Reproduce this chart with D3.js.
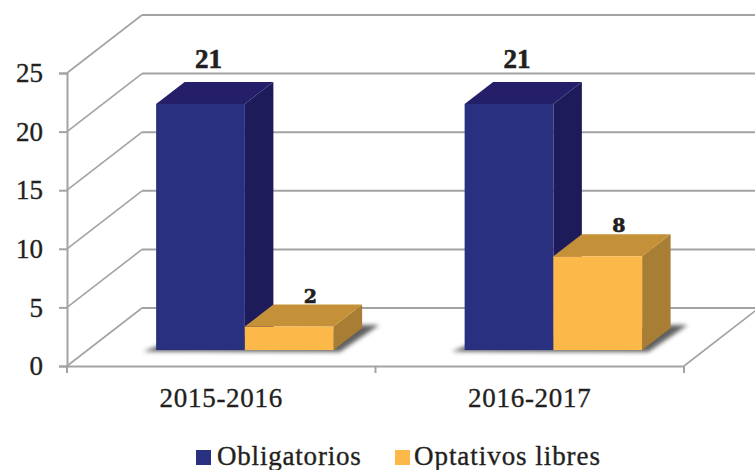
<!DOCTYPE html>
<html>
<head>
<meta charset="utf-8">
<script src="https://cdn.jsdelivr.net/npm/d3@7/dist/d3.min.js"></script>
<style>
  html, body { margin: 0; padding: 0; background: #fff; }
  text { font-family: "Liberation Serif", serif; fill: #231f20; stroke: #231f20; stroke-width: 0.35px; }
</style>
</head>
<body>
<svg width="755" height="470"></svg>
<script>
const categories = ["2015-2016", "2016-2017"];
const seriesNames = ["Obligatorios", "Optativos libres"];
const obligatorios = [21, 21];
const optativos = [2, 8];
const yTicks = [0, 5, 10, 15, 20, 25];

const frontColors = ["#2a3080", "#fdb84a"];
const topColors = ["#241f68", "#c49138"];
const sideColors = ["#1e1b5a", "#a87d34"];
const grid = "#a3a3a3";

const svg = d3.select("svg");
const defs = svg.append("defs");
defs.append("filter").attr("id", "blur")
  .attr("x", "-20%").attr("y", "-40%").attr("width", "140%").attr("height", "180%")
  .append("feGaussianBlur").attr("stdDeviation", 2);

const y = d3.scaleLinear().domain([0, 25]).range([366, 73]);
const x0 = d3.scaleBand().domain(categories).range([67, 684]);
const x1 = d3.scaleBand().domain(seriesNames).range([68.5, 246]);

// oblique projection, z goes from front (0) to back wall (1)
const wallDx = 75, wallDy = 58;
const px = (x, z) => x + wallDx * z;
const py = (v, z) => y(v) - wallDy * z;
const zFront = 0.275, zBack = 0.655;

const rows = categories.map((c, i) => ({
  cat: c,
  values: [obligatorios[i], optativos[i]]
}));

const poly = pts => pts.map(p => p.join(",")).join(" ");

// walls and floor
yTicks.forEach(t => {
  svg.append("line").attr("x1", px(67, 1)).attr("x2", 755)
    .attr("y1", py(t, 1)).attr("y2", py(t, 1))
    .attr("stroke", grid).attr("stroke-width", 2);
  svg.append("line").attr("x1", 67).attr("x2", px(67, 1))
    .attr("y1", py(t, 0)).attr("y2", py(t, 1))
    .attr("stroke", grid).attr("stroke-width", 1.6);
});
svg.append("line").attr("x1", 684).attr("x2", px(684, 1))
  .attr("y1", y(0)).attr("y2", py(0, 1))
  .attr("stroke", grid).attr("stroke-width", 1.6);

// axes
const yAxis = svg.append("g").attr("transform", "translate(67,0)")
  .call(d3.axisLeft(y).tickValues(yTicks).tickSize(8).tickPadding(16));
const xAxis = svg.append("g").attr("transform", "translate(0,366)")
  .call(d3.axisBottom(x0).tickSize(0));
xAxis.selectAll(".tick").append("line")
  .attr("x1", 0).attr("x2", 0).attr("y2", 7)
  .attr("transform", "translate(" + (-x0.bandwidth() / 2) + ",0)");
xAxis.append("line").attr("x1", 684).attr("x2", 684).attr("y2", 7);
xAxis.selectAll("text").attr("y", 41).attr("dy", 0).attr("letter-spacing", 0.7);
[yAxis, xAxis].forEach(a => {
  a.selectAll("path.domain").attr("stroke", grid).attr("stroke-width", 2);
  a.selectAll("line").attr("stroke", grid).attr("stroke-width", 2);
  a.selectAll("text").attr("font-size", 27).attr("fill", "#231f20");
});

// bars
const groups = svg.selectAll("g.cat").data(rows).enter().append("g").attr("class", "cat");
groups.each(function(d) {
  const g = d3.select(this);
  const left = x0(d.cat);
  const l0 = left + x1(seriesNames[0]);
  const r1 = left + x1(seriesNames[1]) + x1.bandwidth();
  // soft shadow on the floor
  g.append("polygon")
    .attr("points", poly([
      [px(l0, zFront) - 13, py(0, zFront) + 1.5],
      [px(r1, zFront) + 6, py(0, zFront) + 2],
      [px(r1, zBack) + 17, py(0, zBack) - 3],
      [px(r1, zBack), py(0, zBack) - 3],
      [px(l0, zFront) + 4, py(0, zFront) - 5]
    ]))
    .attr("fill", "#444").attr("opacity", 0.85).attr("filter", "url(#blur)");

  // blue first, orange sits in front of its side face
  d.values.forEach((v, i) => {
    const a = left + x1(seriesNames[i]);
    const b = a + x1.bandwidth();
    g.append("polygon")
      .attr("points", poly([[px(b, zFront), py(0, zFront)], [px(b, zBack), py(0, zBack)], [px(b, zBack), py(v, zBack)], [px(b, zFront), py(v, zFront)]]))
      .attr("fill", sideColors[i]);
    g.append("polygon")
      .attr("points", poly([[px(a, zFront), py(v, zFront)], [px(b, zFront), py(v, zFront)], [px(b, zBack), py(v, zBack)], [px(a, zBack), py(v, zBack)]]))
      .attr("fill", topColors[i]);
    g.append("rect")
      .attr("x", px(a, zFront)).attr("y", py(v, zFront))
      .attr("width", x1.bandwidth()).attr("height", y(0) - y(v))
      .attr("fill", frontColors[i]);
  });

  // value labels
  const labelDx = [8, 21];
  const labelDy = [-14, -2];
  d.values.forEach((v, i) => {
    const a = left + x1(seriesNames[i]);
    g.append("text")
      .attr("x", px(a + x1.bandwidth() / 2, zFront) + labelDx[i])
      .attr("y", py(v, zBack) + labelDy[i])
      .attr("text-anchor", "middle")
      .attr("font-weight", "bold")
      .style("font-family", i == 0 ? "'Liberation Serif'" : "'DejaVu Serif'")
      .attr("font-size", i == 0 ? 27 : 19)
      .style("stroke-width", "0.6px")
      .text(v);
  });
});

// legend
const legendX = [196, 395];
const legendTextX = [217, 414];
seriesNames.forEach((s, i) => {
  svg.append("rect").attr("x", legendX[i]).attr("y", 450)
    .attr("width", 15).attr("height", 15).attr("fill", frontColors[i]);
  svg.append("text").attr("x", legendTextX[i]).attr("y", 465)
    .attr("font-size", 27).attr("letter-spacing", i == 0 ? 0.8 : 0.95).text(s);
});
</script>
</body>
</html>
